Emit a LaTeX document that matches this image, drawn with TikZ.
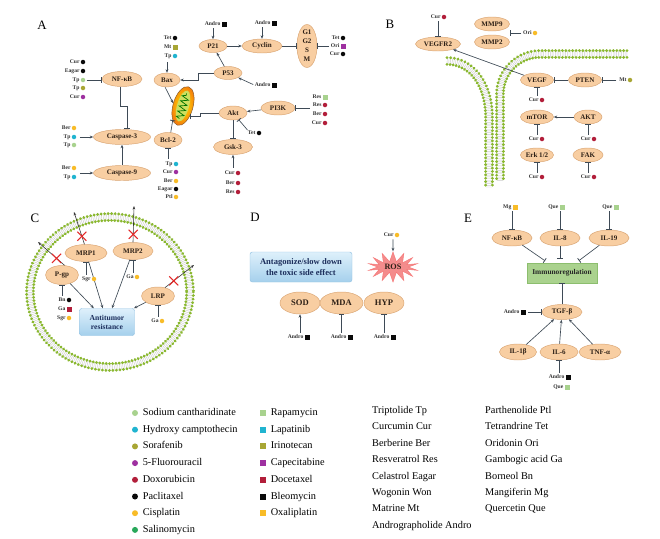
\documentclass[tikz,border=0pt]{standalone}
\usepackage{fontspec}
\setmainfont{Liberation Serif}
\usetikzlibrary{shapes,arrows.meta,positioning,calc,decorations.markings,decorations.pathmorphing}

\definecolor{protfill}{RGB}{248,206,162}
\definecolor{protline}{RGB}{218,165,115}
\definecolor{prottext}{RGB}{45,32,22}
\definecolor{lnc}{RGB}{62,74,86}
\definecolor{cSc}{RGB}{168,210,142}
\definecolor{cHcpt}{RGB}{32,180,208}
\definecolor{cSor}{RGB}{168,166,52}
\definecolor{cFu}{RGB}{158,48,160}
\definecolor{cDox}{RGB}{178,30,58}
\definecolor{cPtx}{RGB}{10,10,10}
\definecolor{cCis}{RGB}{248,188,40}
\definecolor{cSal}{RGB}{40,168,90}
\definecolor{headc}{RGB}{138,184,48}
\definecolor{boxtop}{RGB}{222,240,251}
\definecolor{boxbot}{RGB}{165,208,236}
\definecolor{boxline}{RGB}{150,196,228}
\definecolor{boxtext}{RGB}{28,46,92}
\definecolor{immfill}{RGB}{170,210,142}
\definecolor{immline}{RGB}{140,190,110}
\definecolor{rosfill}{RGB}{244,140,140}
\definecolor{xred}{RGB}{228,40,40}

\tikzset{
  prot/.style={ellipse, draw=protline, fill=protfill, line width=0.4pt, inner sep=0pt,
    text=prottext, font=\fontsize{6}{6.5}\selectfont\bfseries, align=center},
  sz/.style 2 args={minimum width=#1*0.3mm, minimum height=#2*0.3mm},
  bluebox/.style={rectangle, rounded corners=2pt, draw=boxline, top color=boxtop, bottom color=boxbot,
    text=boxtext, font=\fontsize{6.5}{7.8}\selectfont\bfseries, align=center, inner sep=1pt},
  immbox/.style={rectangle, draw=immline, fill=immfill, text=black!85,
    font=\fontsize{6.3}{7}\selectfont\bfseries, inner sep=1pt},
  ros/.style={starburst, starburst points=14, starburst point height=2.9mm, random starburst=0,
    fill=rosfill, draw=rosfill!85!red, minimum width=15mm, minimum height=9mm, inner sep=0pt,
    text=prottext, font=\fontsize{7}{8}\selectfont\bfseries},
  mito/.style={ellipse, rotate=-16, minimum width=6mm, minimum height=12mm, inner sep=0pt,
    draw=brown!70!black, line width=0.4pt, inner color=yellow!80!orange, outer color=orange!85!brown},
  mitoin/.style={ellipse, rotate=-16, minimum width=3.6mm, minimum height=9.6mm, inner sep=0pt,
    fill={rgb,255:red,205;green,222;blue,95}},
  cristae/.style={draw=green!45!black, line width=0.6pt, decorate,
    decoration={zigzag, amplitude=1.1mm, segment length=1.6mm}},
  drug/.style={font=\fontsize{4.8}{5}\selectfont\bfseries, inner sep=0.3pt, text=black!80,
    text height=3.4pt, text depth=0.9pt},
  mk/.style={inner sep=0pt, minimum size=1.35mm},
  dSc/.style={mk,circle,fill=cSc}, dHcpt/.style={mk,circle,fill=cHcpt},
  dSor/.style={mk,circle,fill=cSor}, dFu/.style={mk,circle,fill=cFu},
  dDox/.style={mk,circle,fill=cDox}, dPtx/.style={mk,circle,fill=cPtx},
  dCis/.style={mk,circle,fill=cCis},
  sRap/.style={mk,rectangle,fill=cSc,minimum size=1.5mm}, sIri/.style={mk,rectangle,fill=cSor,minimum size=1.5mm},
  sCap/.style={mk,rectangle,fill=cFu,minimum size=1.5mm}, sDoc/.style={mk,rectangle,fill=cDox,minimum size=1.5mm},
  sBleo/.style={mk,rectangle,fill=cPtx,minimum size=1.5mm}, sOxa/.style={mk,rectangle,fill=cCis,minimum size=1.5mm},
  act/.style={draw=lnc, line width=0.55pt, -{Stealth[length=3pt,width=2.4pt]}},
  inh/.style={draw=lnc, line width=0.55pt, -{Bar[width=4.5pt,line width=0.7pt]}},
  eff/.style={draw=black!80, line width=0.5pt, -{Stealth[length=3pt,width=2.2pt]}},
  xmk/.style={cross out, draw=xred, line width=0.9pt, minimum size=2.4mm, inner sep=0pt},
  lett/.style={font=\fontsize{11}{12}\selectfont, inner sep=0pt},
  legtxt/.style={font=\fontsize{8.8}{10}\selectfont, inner sep=0pt, anchor=west,
    text height=6.2pt, text depth=1.8pt},
  legmk/.style={inner sep=0pt, minimum size=1.8mm},
  bilayer/.style={
    postaction={draw=gray!40, line width=5pt, dash pattern=on 0.35pt off 1.1pt},
    postaction={decorate, decoration={markings, mark=between positions 0 and 1 step 2.9pt with
      {\fill[headc] (0,2.9pt) circle (1.35pt); \fill[headc] (0,-2.9pt) circle (1.35pt);}}}}
}

\newcommand{\drug}[5]{\node[#5] (#1) at (#2,#3) {}; \node[drug,left=0.3pt of #1] (#1t) {#4};}

\begin{document}
\begin{tikzpicture}[x=0.3mm,y=-0.3mm]
\fill[white] (0,0) rectangle (660,539);
\useasboundingbox (0,0) rectangle (660,539);

% Panel A
\node[lett] (la) at (42,25) {A};
\node[prot,sz={40}{15}] (nfkb) at (122,79) {NF-κB};
\node[prot,sz={57}{15}] (casp3) at (122,137) {Caspase-3};
\node[prot,sz={57}{15}] (casp9) at (122,173) {Caspase-9};
\node[prot,sz={26}{14}] (bax) at (167,80) {Bax};
\node[prot,sz={28}{15}] (bcl) at (168,140) {Bcl-2};
\node[prot,sz={28}{13}] (p53) at (228,73) {P53};
\node[prot,sz={28}{13}] (p21) at (213,46) {P21};
\node[prot,sz={40}{14}] (cyclin) at (262,46) {Cyclin};
\node[prot,sz={20}{43},inner sep=-2pt,font=\fontsize{6}{7.6}\selectfont\bfseries] (phase) at (307,46) {G1\\G2\\S\\M};
\node[prot,sz={28}{14}] (akt) at (233,113) {Akt};
\node[prot,sz={34}{14}] (pi3k) at (278,108) {PI3K};
\node[prot,sz={39}{15}] (gsk) at (233,147) {Gsk-3};
\node[mito] (mito) at (183,106) {};
\node[mitoin] (mitoin) at (183,106) {};
\draw[cristae] ($(mitoin.south)!0.1!(mitoin.north)$) -- ($(mitoin.south)!0.9!(mitoin.north)$);

\drug{nkCur}{83}{62}{Cur}{dPtx}
\drug{nkEag}{83}{71}{Eagar}{dPtx}
\drug{nkTp}{83}{80}{Tp}{dSc}
\drug{nkTpb}{83}{88}{Tp}{dSor}
\drug{nkCurb}{83}{97}{Cur}{dFu}
\drug{ctBer}{74}{128}{Ber}{dCis}
\drug{ctTp}{74}{137}{Tp}{dHcpt}
\drug{ctTpb}{74}{145}{Tp}{dSc}
\drug{cnBer}{74}{168}{Ber}{dCis}
\drug{cnTp}{74}{177}{Tp}{dHcpt}
\drug{bxTet}{175}{38}{Tet}{dPtx}
\drug{bxMt}{175}{47}{Mt}{sIri}
\drug{bxTp}{175}{56}{Tp}{dHcpt}
\drug{bcTp}{176}{164}{Tp}{dHcpt}
\drug{bcCur}{176}{172}{Cur}{dFu}
\drug{bcBer}{176}{181}{Ber}{dCis}
\drug{bcEag}{176}{189}{Eagar}{dPtx}
\drug{bcPtl}{176}{197}{Ptl}{dCis}
\drug{pbAnd}{224}{24}{Andro}{sBleo}
\drug{cyAnd}{274}{23}{Andro}{sBleo}
\drug{psAnd}{274}{85}{Andro}{sBleo}
\drug{phTet}{343}{38}{Tet}{dPtx}
\drug{phOri}{343}{46}{Ori}{sCap}
\drug{phCur}{343}{54}{Cur}{dPtx}
\drug{piRes}{325}{97}{Res}{sRap}
\drug{piResb}{325}{105}{Res}{dDox}
\drug{piBer}{325}{114}{Ber}{dDox}
\drug{piCur}{325}{123}{Cur}{dDox}
\drug{akTet}{259}{133}{Tet}{dPtx}
\drug{gkCur}{238}{173}{Cur}{dDox}
\drug{gkBer}{238}{183}{Ber}{dDox}
\drug{gkRes}{238}{192}{Res}{dDox}

\draw[inh, shorten <=1pt] (nkTp.east) -- (nkTp.east -| nfkb.west);
\draw[inh] (nfkb.-105) -- ++(0,20) -| ($(casp3.north)+(5,0)$);
\draw[act] (casp9) -- (casp3);
\draw[act, shorten <=3pt] (ctTp.east) -- (ctTp.east -| casp3.west);
\draw[act, shorten <=3pt] (cnTp.east |- casp9) -- (casp9.west);
\draw[act, shorten <=3pt] (bxTp.south -| bax) -- (bax);
\draw[act] (bax.-105) -- (mito.west);
\draw[inh, shorten <=2pt] (bcTp.north -| bcl) -- (bcl);
\draw[inh] (bcl.70) -- (mito.250);
\draw[inh] (akt.west) -- ++(-18,0) |- (mito.-42);
\draw[act] (p53) -- (p21);
\draw[act] (p21) -- (cyclin);
\draw[inh] (cyclin) -- (phase);
\draw[act] (p53.west) -- ++(-15,0) |- (bax.east);
\draw[act, shorten <=1pt] (pbAndt.south -| p21) -- (p21);
\draw[act, shorten <=1pt] (cyAndt.south -| cyclin) -- (cyclin);
\draw[act, shorten <=1pt] (psAndt.west) -- (p53);
\draw[inh, shorten <=1pt] (phOrit.west) -- (phase);
\draw[act] (pi3k) -- (akt);
\draw[inh, shorten <=2pt] (piResbt.west |- pi3k) -- (pi3k);
\draw[inh] (akt) -- (gsk);
\draw[inh] (akTett.north west) -- (akt);
\draw[act, shorten <=2pt] (gkCurt.north -| gsk) -- (gsk);

% Panel B
\node[lett] (lb) at (390,24) {B};
\path[bilayer] (447,61) .. controls (472,61) and (489,85) .. (489,117) -- (489,188);
\path[bilayer] (627,54) -- (540,54) .. controls (518,54) and (500,72) .. (500,94) -- (500,182);
\node[prot,sz={45}{14}] (vegfr) at (438,44) {VEGFR2};
\node[prot,sz={35}{14}] (mmp9) at (492,24) {MMP9};
\node[prot,sz={35}{14}] (mmp2) at (492,42) {MMP2};
\node[prot,sz={33}{14}] (vegf) at (537,80) {VEGF};
\node[prot,sz={33}{14}] (pten) at (585,80) {PTEN};
\node[prot,sz={33}{14}] (mtor) at (537,117) {mTOR};
\node[prot,sz={28}{14}] (aktb) at (588,117) {AKT};
\node[prot,sz={33}{14}] (erk) at (537,155) {Erk 1/2};
\node[prot,sz={30}{14}] (fak) at (588,155) {FAK};
\drug{vrCur}{444}{17}{Cur}{dDox}
\drug{mmOri}{535}{33}{Ori}{dCis}
\drug{ptMt}{630}{80}{Mt}{dSor}
\drug{vgCur}{542}{100}{Cur}{dDox}
\drug{mtCur}{542}{139}{Cur}{dDox}
\drug{akCur}{594}{139}{Cur}{dDox}
\drug{erCur}{542}{177}{Cur}{dDox}
\drug{fkCur}{594}{177}{Cur}{dDox}
\draw[inh, shorten <=1pt] (vrCurt.south -| vegfr) -- (vegfr);
\draw[inh, shorten <=1pt] (mmOrit.west) -- (mmOrit.west -| mmp9.east);
\draw[inh, shorten <=2pt] (ptMtt.west) -- (pten);
\draw[inh] (pten) -- (vegf);
\draw[act] (vegf) -- (vegfr);
\draw[act] (aktb) -- (mtor);
\draw[inh, shorten <=1pt] (vgCurt.north -| vegf) -- (vegf);
\draw[inh, shorten <=1pt] (mtCurt.north -| mtor) -- (mtor);
\draw[inh, shorten <=1pt] (akCurt.north -| aktb) -- (aktb);
\draw[inh, shorten <=1pt] (erCurt.north -| erk) -- (erk);
\draw[inh, shorten <=1pt] (fkCurt.north -| fak) -- (fak);

% Panel C
\node[lett] (lc) at (35,218) {C};
\path[bilayer] (110,292) ellipse [x radius=80, y radius=75];
\node[prot,sz={33}{19}] (pgp) at (62,275) {P-gp};
\node[prot,sz={42}{17}] (mrp1) at (86,253) {MRP1};
\node[prot,sz={40}{17}] (mrp2) at (133,251) {MRP2};
\node[prot,sz={33}{18}] (lrp) at (158,296) {LRP};
\node[bluebox,sz={55}{27}] (resist) at (107,322) {Antitumor\\resistance};
\coordinate (pgpout) at (38,242);
\coordinate (m1out) at (74,212);
\coordinate (m2out) at (134,206);
\coordinate (lrout) at (194,265);
\draw[eff] (pgp.75) -- node[xmk,pos=0.3]{} (pgpout);
\draw[eff] (mrp1.100) -- node[xmk,pos=0.25]{} (m1out);
\draw[eff] (mrp2.north) -- node[xmk,pos=0.22]{} (m2out);
\draw[eff] (lrp.50) -- node[xmk,pos=0.3]{} (lrout);
\draw[act] (pgp) -- (resist);
\draw[act] (mrp1) -- (resist);
\draw[act] (mrp2) -- (resist);
\draw[act] (lrp) -- (resist);
\drug{moSgr}{94}{279}{Sgr}{dCis}
\drug{mtGa}{137}{277}{Ga}{dCis}
\drug{pgBn}{69}{300}{Bn}{dPtx}
\drug{pgGa}{69}{309}{Ga}{sDoc}
\drug{pgSgr}{69}{318}{Sgr}{dCis}
\drug{lrGa}{162}{321}{Ga}{dCis}
\draw[inh, shorten <=1pt] (moSgrt.north -| mrp1) -- (mrp1);
\draw[inh, shorten <=1pt] (mtGat.north -| mrp2) -- (mrp2);
\draw[inh, shorten <=1pt] (pgBnt.north -| pgp) -- (pgp);
\draw[inh, shorten <=1pt] (lrGat.north -| lrp) -- (lrp);

% Panel D
\node[lett] (ld) at (255,217) {D};
\node[ros] (ros) at (393,267) {ROS};
\drug{rsCur}{397}{235}{Cur}{dCis}
\draw[act, shorten <=1pt] (rsCurt.south -| ros) -- (ros.north);
\node[bluebox,sz={102}{30},font=\fontsize{7.3}{9}\selectfont\bfseries] (antag) at (301,267) {Antagonize/slow down\\the toxic side effect};
\node[prot,sz={40}{22},font=\fontsize{7.3}{8}\selectfont\bfseries] (sod) at (300,303) {SOD};
\node[prot,sz={43}{22},font=\fontsize{7.3}{8}\selectfont\bfseries] (mda) at (341.5,303) {MDA};
\node[prot,sz={40}{22},font=\fontsize{7.3}{8}\selectfont\bfseries] (hyp) at (384,303) {HYP};
\drug{sdAnd}{307}{337}{Andro}{sBleo}
\drug{mdAnd}{350}{337}{Andro}{sBleo}
\drug{hyAnd}{393}{337}{Andro}{sBleo}
\draw[act, shorten <=1pt] (sdAndt.north -| sod) -- (sod);
\draw[inh, shorten <=1pt] (mdAndt.north -| mda) -- (mda);
\draw[inh, shorten <=1pt] (hyAndt.north -| hyp) -- (hyp);

% Panel E
\node[lett] (le) at (468,218) {E};
\node[prot,sz={40}{16}] (enfkb) at (512,238) {NF-κB};
\node[prot,sz={40}{16}] (il8) at (560,238) {IL-8};
\node[prot,sz={40}{16}] (il19) at (609,238) {IL-19};
\node[immbox,sz={70}{20}] (immu) at (562,273) {Immunoregulation};
\node[prot,sz={40}{15}] (tgf) at (562,312) {TGF-β};
\node[prot,sz={37}{16}] (il1b) at (518,352) {IL-1β};
\node[prot,sz={38}{16}] (il6) at (559,352) {IL-6};
\node[prot,sz={42}{16}] (tnfa) at (600,352) {TNF-α};
\drug{eMg}{515}{207}{Mg}{sOxa}
\drug{eQue}{562}{207}{Que}{sRap}
\drug{eQueb}{616}{207}{Que}{sRap}
\drug{eAnd}{523}{312}{Andro}{sBleo}
\drug{eAndb}{568}{377}{Andro}{sBleo}
\drug{eQuec}{567}{387}{Que}{sRap}
\draw[inh, shorten <=1pt] (eMgt.south -| enfkb) -- (enfkb);
\draw[inh, shorten <=1pt] (eQuet.south -| il8) -- (il8);
\draw[inh, shorten <=1pt] (eQuebt.south -| il19) -- (il19);
\draw[inh, shorten >=3pt] (enfkb) -- ($(immu.north)!0.4!(immu.north west)$);
\draw[inh, shorten >=3pt] (il8) -- (il8 |- immu.north);
\draw[inh, shorten >=3pt] (il19) -- ($(immu.north)!0.4!(immu.north east)$);
\draw[inh] (tgf) -- (immu);
\draw[inh, shorten <=2pt] (eAnd.east) -- (tgf);
\draw[act] (il1b) -- (tgf);
\draw[act] (il6) -- (tgf);
\draw[act] (tnfa) -- (tgf);
\draw[inh, shorten <=1pt] (eAndbt.north -| il6) -- (il6);

% Legend
\foreach \lbl/\col [count=\i] in {Sodium cantharidinate/cSc, Hydroxy camptothecin/cHcpt, Sorafenib/cSor,
    5-Fluorouracil/cFu, Doxorubicin/cDox, Paclitaxel/cPtx, Cisplatin/cCis, Salinomycin/cSal}
  {\node[legmk,circle,fill=\col] (lgc\i) at (135,{413+16.7*(\i-1)}) {};
   \node[legtxt,right=1.3mm of lgc\i] (lgct\i) {\lbl};}
\foreach \lbl/\col [count=\i] in {Rapamycin/cSc, Lapatinib/cHcpt, Irinotecan/cSor,
    Capecitabine/cFu, Docetaxel/cDox, Bleomycin/cPtx, Oxaliplatin/cCis}
  {\node[legmk,rectangle,fill=\col] (lgs\i) at (263,{413+16.7*(\i-1)}) {};
   \node[legtxt,right=1.3mm of lgs\i] (lgst\i) {\lbl};}
\foreach \lbl [count=\i] in {Triptolide Tp, Curcumin Cur, Berberine Ber, Resveratrol Res,
    Celastrol Eagar, Wogonin Won, Matrine Mt, Andrographolide Andro}
  {\node[legtxt] (lga\i) at (372,{411+16.4*(\i-1)}) {\lbl};}
\foreach \lbl [count=\i] in {Parthenolide Ptl, Tetrandrine Tet, Oridonin Ori, Gambogic acid Ga,
    Borneol Bn, Mangiferin Mg, Quercetin Que}
  {\node[legtxt] (lgb\i) at (485,{411+16.4*(\i-1)}) {\lbl};}
\end{tikzpicture}
\end{document}
